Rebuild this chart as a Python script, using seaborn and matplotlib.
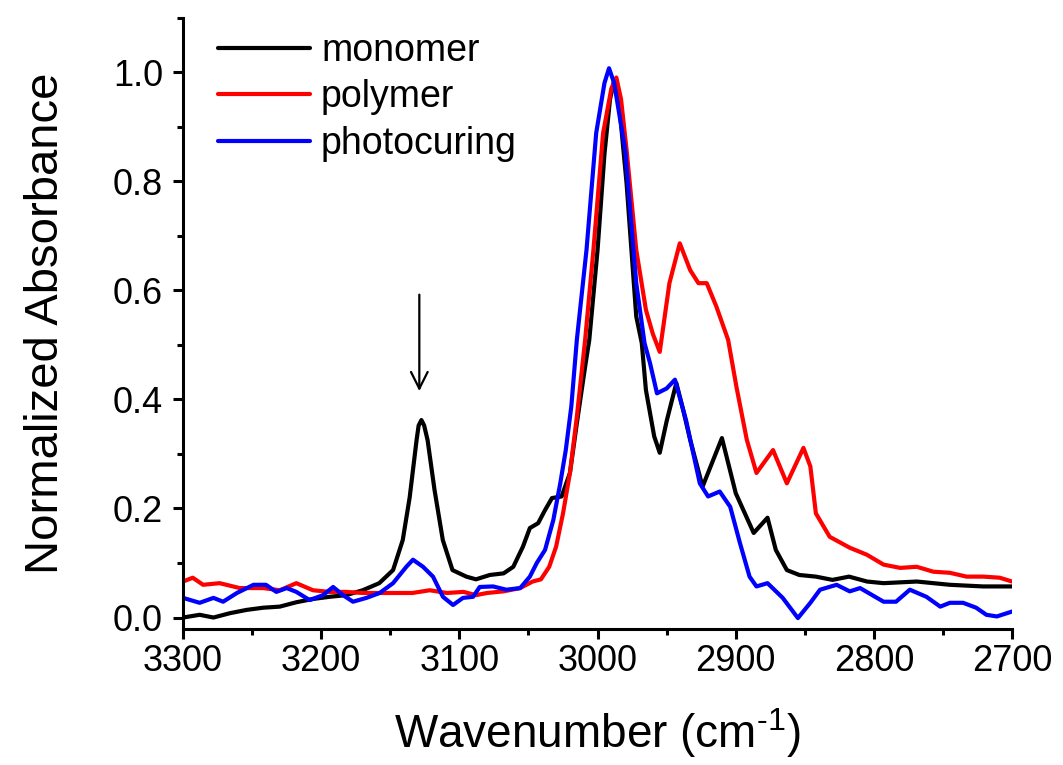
import numpy as np
import pandas as pd
import matplotlib
matplotlib.use("Agg")
import matplotlib.pyplot as plt
from matplotlib.ticker import MultipleLocator
import seaborn as sns

# ---------------- data ----------------
monomer_wn = [3300, 3288, 3278, 3266, 3254, 3242, 3230, 3218, 3206, 3194, 3182, 3170,
              3158, 3148, 3141, 3136, 3131, 3129.5, 3127.5, 3125.5, 3123, 3118, 3112, 3105, 3095, 3088,
              3078, 3068, 3061, 3054, 3049, 3043, 3038, 3033, 3026, 3020, 3015, 3009,
              3006, 3000, 2995, 2991, 2988, 2984, 2979, 2972, 2968, 2965, 2959, 2955,
              2950, 2943, 2938, 2933, 2924, 2910, 2900, 2887, 2877, 2871, 2863, 2854,
              2842, 2830, 2818, 2805, 2793, 2769, 2745, 2721, 2700]
monomer_abs = [0.0, 0.005, 0.0, 0.008, 0.014, 0.018, 0.02, 0.028, 0.034, 0.038, 0.041, 0.05,
               0.063, 0.087, 0.142, 0.22, 0.325, 0.352, 0.362, 0.352, 0.325, 0.234, 0.142, 0.087, 0.075, 0.07,
               0.078, 0.081, 0.093, 0.13, 0.164, 0.173, 0.197, 0.219, 0.222, 0.265, 0.356, 0.46,
               0.509, 0.674, 0.85, 0.95, 0.985, 0.93, 0.796, 0.552, 0.503, 0.417, 0.332, 0.302,
               0.36, 0.43, 0.38, 0.326, 0.24, 0.329, 0.228, 0.155, 0.183, 0.124, 0.087, 0.078,
               0.075, 0.069, 0.075, 0.066, 0.063, 0.066, 0.06, 0.057, 0.057]

polymer_wn = [3300, 3293, 3285.5, 3273.5, 3259, 3242, 3230, 3218, 3206, 3194, 3182, 3170,
              3158, 3146, 3134, 3121.5, 3109, 3097, 3088, 3080, 3068, 3056, 3047, 3041,
              3035, 3030, 3025, 3020, 3015, 3009, 3003, 2996, 2990, 2986.4, 2983, 2979,
              2972, 2965, 2960, 2955, 2948, 2940.5, 2933, 2927, 2921, 2914, 2905.5, 2899.5,
              2892, 2885, 2873, 2863, 2851, 2846, 2842, 2832, 2817.5, 2805, 2793, 2781,
              2769, 2757, 2745, 2733, 2721, 2709, 2700]
polymer_abs = [0.066, 0.073, 0.06, 0.063, 0.054, 0.054, 0.05, 0.063, 0.05, 0.047, 0.047, 0.045,
               0.045, 0.045, 0.045, 0.05, 0.045, 0.047, 0.041, 0.045, 0.048, 0.054, 0.066, 0.07,
               0.093, 0.13, 0.191, 0.265, 0.368, 0.509, 0.674, 0.888, 0.97, 0.99, 0.95, 0.857,
               0.674, 0.564, 0.52, 0.487, 0.613, 0.686, 0.637, 0.613, 0.613, 0.57, 0.509, 0.423,
               0.326, 0.265, 0.307, 0.246, 0.311, 0.277, 0.191, 0.148, 0.128, 0.115, 0.097, 0.091,
               0.093, 0.084, 0.082, 0.075, 0.075, 0.073, 0.066]

photo_wn = [3300, 3288, 3278, 3271, 3261, 3249, 3240, 3232.5, 3225, 3218, 3208.4, 3198.7,
            3191.4, 3184.2, 3177, 3167.3, 3157.7, 3148, 3138.4, 3133.6, 3126.3, 3119.1, 3111.9,
            3104.6, 3097.4, 3090.1, 3085.3, 3075.6, 3066, 3056, 3049, 3044, 3038, 3032, 3027,
            3023, 3019, 3015, 3008, 3001, 2995, 2991.7, 2988, 2980, 2972, 2966, 2962, 2957,
            2950, 2944, 2936, 2926, 2920, 2911.6, 2904, 2897, 2890, 2885, 2877, 2866, 2855,
            2846, 2839, 2827, 2817.5, 2810, 2793, 2784, 2774, 2762, 2752, 2745, 2735.5, 2726,
            2718.6, 2711, 2700]
photo_abs = [0.036, 0.027, 0.036, 0.029, 0.045, 0.06, 0.06, 0.047, 0.054, 0.047, 0.032, 0.041,
             0.056, 0.041, 0.029, 0.036, 0.045, 0.063, 0.093, 0.106, 0.093, 0.075, 0.038,
             0.023, 0.036, 0.038, 0.056, 0.057, 0.051, 0.054, 0.075, 0.1, 0.124, 0.179, 0.246,
             0.307, 0.387, 0.509, 0.674, 0.888, 0.98, 1.007, 0.98, 0.857, 0.613, 0.503, 0.466, 0.411,
             0.42, 0.436, 0.362, 0.246, 0.222, 0.231, 0.203, 0.137, 0.075, 0.057, 0.063, 0.036, -0.001,
             0.027, 0.051, 0.06, 0.048, 0.054, 0.029, 0.029, 0.051, 0.038, 0.02, 0.027, 0.027, 0.018,
             0.005, 0.002, 0.011]

series_names = ["monomer", "polymer", "photocuring"]
series_colors = ["#000000", "#ff0000", "#0000ff"]
x_ticks = [3300, 3200, 3100, 3000, 2900, 2800, 2700]
y_ticks = [0.0, 0.2, 0.4, 0.6, 0.8, 1.0]
x_label = "Wavenumber (cm$^{\\text{-1}}$)"
y_label = "Normalized Absorbance"

# ---------------- build long-form table ----------------
frames = []
for name, wn, ab in [("monomer", monomer_wn, monomer_abs),
                     ("polymer", polymer_wn, polymer_abs),
                     ("photocuring", photo_wn, photo_abs)]:
    frames.append(pd.DataFrame({"wn": wn, "abs": ab, "series": name}))
df = pd.concat(frames, ignore_index=True)

# ---------------- styling ----------------
sns.set_theme(style="ticks")
plt.rcParams["font.family"] = ["Liberation Sans", "DejaVu Sans"]
plt.rcParams["mathtext.fontset"] = "custom"
plt.rcParams["mathtext.rm"] = "Liberation Sans"
plt.rcParams["mathtext.sf"] = "Liberation Sans"
plt.rcParams["mathtext.it"] = "Liberation Sans"
plt.rcParams["mathtext.default"] = "regular"
plt.rcParams["text.color"] = "black"
plt.rcParams["axes.labelcolor"] = "black"
plt.rcParams["xtick.color"] = "black"
plt.rcParams["ytick.color"] = "black"

fig = plt.figure(figsize=(10.63, 7.65), dpi=100)
ax = fig.add_axes([0.1722, 0.1778, 0.7799, 0.7993])

sns.lineplot(data=df, x="wn", y="abs", hue="series", hue_order=series_names,
             palette=dict(zip(series_names, series_colors)), sort=False,
             estimator=None, units="series", linewidth=3.0, ax=ax)
for line in ax.get_lines():
    line.set_solid_joinstyle("round")
    line.set_solid_capstyle("round")

ax.set_xlim(3300, 2700)
ax.set_ylim(-0.021, 1.1)
ax.set_xticks(x_ticks)
ax.set_xticklabels([str(t) for t in x_ticks])
ax.set_yticks(y_ticks)
ax.set_yticklabels([f"{t:.1f}" for t in y_ticks])
ax.xaxis.set_minor_locator(MultipleLocator(50))
ax.yaxis.set_minor_locator(MultipleLocator(0.1))

for s in ["top", "right"]:
    ax.spines[s].set_visible(False)
for s in ["left", "bottom"]:
    ax.spines[s].set_linewidth(2.2)
    ax.spines[s].set_color("black")

ax.tick_params(which="major", direction="out", length=7.5, width=2.2,
               labelsize=26, colors="black", labelcolor="black")
ax.tick_params(which="minor", direction="out", length=4.5, width=2.2, colors="black")
ax.tick_params(axis="y", which="major", pad=7)
ax.tick_params(axis="x", which="major", pad=3)

ax.set_xlabel(x_label, fontsize=33, labelpad=20, color="black")
ax.set_ylabel(y_label, fontsize=34, labelpad=32, color="black")

# arrow above the monomer peak near 3129 cm-1
ax.annotate("", xy=(3129, 0.41), xytext=(3129, 0.597),
            arrowprops=dict(arrowstyle="->", lw=1.6, color="black", mutation_scale=30))

leg = ax.legend(loc="upper left", bbox_to_anchor=(0.042, 0.975), frameon=False,
                fontsize=27, handlelength=2.45, handletextpad=0.3, labelspacing=0.28,
                borderaxespad=0.0, borderpad=0.0)
for line in leg.get_lines():
    line.set_linewidth(3.0)
for t in leg.get_texts():
    t.set_color("black")

fig.patch.set_facecolor("white")
ax.set_facecolor("white")
fig.savefig("out.png", dpi=100, facecolor="white")
